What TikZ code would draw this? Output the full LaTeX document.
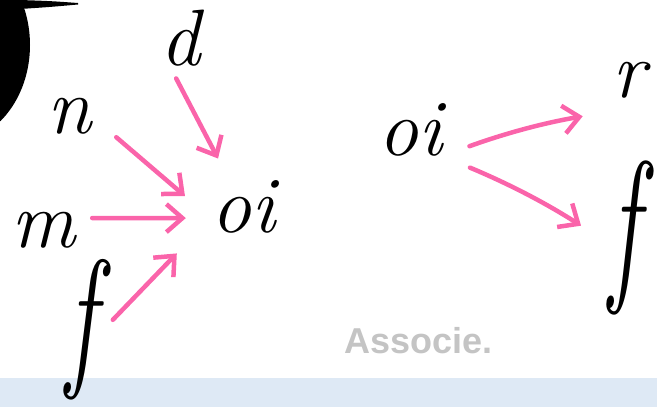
\documentclass[tikz,border=0pt]{standalone}
\usepackage{fontspec}
\usepackage{tikz}
\usetikzlibrary{arrows.meta,positioning}
\newfontfamily\hintfont{Liberation Sans}
\definecolor{markerpink}{RGB}{250,100,170}
\definecolor{bandblue}{RGB}{222,233,245}
\definecolor{hintgray}{RGB}{196,196,196}

\begin{document}
\begin{tikzpicture}[x=1pt, y=-1pt,
    letter/.style={inner sep=0pt, font=\fontsize{80}{80}\selectfont\itshape},
    tall/.style={inner sep=0pt, font=\fontsize{100}{100}\selectfont\itshape},
    link/.style={markerpink, line width=4.5pt, line cap=round,
        -{Straight Barb[length=16pt,width=28pt]}}]
    \useasboundingbox (0,0) rectangle (657,407);

    % Bottom band
    \fill[bandblue] (0,378) rectangle (657,407);

    % Black shape top left
    \fill[black] (-50,45) ellipse [x radius=80pt, y radius=98pt];
    \fill[black] (20,0) .. controls (50,1) .. (78,3) -- (78,4.5) .. controls (50,7) .. (20,9) -- cycle;

    % Left group
    \node[letter, anchor=base] (oiL) at (243,232) {oi};
    \node[letter, anchor=base] (d) at (180,65) {d};
    \node[letter, anchor=base] (n) at (69,133) {n};
    \node[letter, anchor=base] (m) at (44,247) {m};
    \node[tall] (fL) at (81,330) {\scalebox{1}[1.55]{f}};

    \draw[link, shorten <=14pt, shorten >=24pt] (d.250) -- (oiL);
    \draw[link, shorten <=33pt, shorten >=34pt] (n.east) -- (oiL.200);
    \draw[link, shorten <=16pt, shorten >=25pt] (m.20) -- (oiL.200);
    \draw[link, shorten <=24pt, shorten >=49pt] (fL.-25) -- (oiL.200);

    % Right group
    \node[letter, anchor=base] (oiR) at (410,155) {oi};
    \node[letter, anchor=base, text depth=14pt] (r) at (629,97) {r};
    \node[tall] (fR) at (624,238) {\scalebox{1}[1.7]{f}};

    \draw[link, shorten <=29pt, shorten >=30pt] (oiR.south east) to[bend left=5] (r.south west);
    \draw[link, shorten <=30pt, shorten >=33pt] (oiR.south east) to[bend left=5] (fR.200);

    % Instruction
    \node[font=\hintfont\bfseries\fontsize{36}{36}\selectfont, text=hintgray,
        anchor=base west, inner sep=0pt] (hint) at (344,353) {Associe.};
\end{tikzpicture}
\end{document}
